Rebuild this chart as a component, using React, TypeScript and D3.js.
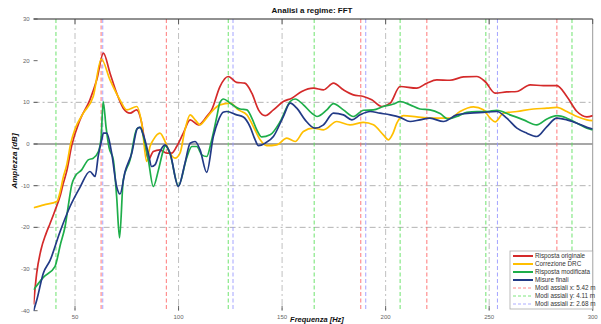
import React from 'react';
import * as d3 from 'd3';

// [frequency Hz, amplitude dB]
const rispostaOriginale: [number, number][] = [
  [30, -38.5], [31.5, -31], [33.5, -25.5], [36, -21.5], [38, -19], [40.3, -16], [42.8, -12.5], [44.3, -9.5],
  [46, -6.5], [48.4, -0.4], [52.4, 5.8], [57.2, 10.6], [60.5, 15.4], [63.7, 21.8], [66.9, 17], [70.1, 12.2],
  [73.3, 8.6], [76.6, 7.4], [79.8, 8.2], [82, 5.5], [83.8, 0.2], [85.4, -3.8], [87.8, -1.8], [91, -1.4],
  [94.3, -2.2], [96.7, -2.2], [99.1, -0.6], [102.3, 2.6], [105.6, 5.8], [109.6, 4.6], [113.6, 6.6], [116, 8.2],
  [120, 13.8], [124, 16.2], [128, 14.8], [132, 14.6], [135.4, 12.2], [138.6, 8.2], [141.8, 6.8], [145.8, 8.2],
  [150.6, 10.2], [154.7, 11], [159.5, 12.6], [165.1, 13.4], [170, 13], [174.8, 14.6], [179.6, 13], [184.4, 11.8],
  [189.3, 11.4], [193.3, 10.6], [198.2, 9], [202.2, 9.8], [207, 13.8], [215, 13.4], [219.9, 14.6], [224.7, 15.4],
  [231, 15.3], [237.6, 16.1], [244, 16.2], [248, 15], [252.9, 12.2], [258.5, 12.5], [263.4, 12.6], [269.8, 14.2],
  [276.2, 14], [282.7, 14], [287.5, 11.4], [292.4, 7.8], [297.2, 6.5], [300, 6.8],
];

const correzioneDRC: [number, number][] = [
  [30, -15.3], [35, -14.6], [41.2, -13.8], [42.8, -11.5], [44.3, -8], [46, -5], [48, 0.3], [50, 3.6],
  [54, 7.4], [58.8, 11.4], [62.7, 20.4], [66.9, 15.4], [71.7, 10.6], [75, 8.2], [79.8, 9], [82.2, 5],
  [84.6, -4.2], [86.2, -0.6], [87.8, 1], [91, 2.6], [93.5, 0.6], [95.9, -2.2], [98.3, -3.4], [100.7, -2.2],
  [103.1, 3.4], [105.6, 7], [108, 5.8], [110.4, 4.6], [112.8, 5.8], [116.8, 8.2], [120, 9.4], [124.9, 9.8],
  [128.9, 8.2], [133, 7], [136.1, 4.2], [139.4, 1], [142.6, -0.4], [147.4, -0.2], [152.3, 1.4], [156.3, 0.6],
  [160.3, 3], [165.1, 3.8], [170, 3.4], [176.4, 5.4], [182.8, 4.6], [189.3, 5.2], [194.1, 4.6], [198.9, 2.2],
  [201.4, 1], [203.5, 2.5], [205.4, 5], [208.6, 6.8], [215, 6.5], [221.4, 6.2], [226.3, 6.2], [231.1, 6.2],
  [235.9, 7.8], [242.4, 8.9], [247.2, 8.2], [250.5, 6.2], [252.9, 5.3], [256.9, 7.4], [263.4, 7.8], [271.4, 8.4],
  [277.9, 8.6], [282.7, 8.8], [287.5, 7.8], [292.4, 6.6], [297.2, 5.8], [300, 5.6],
];

const rispostaModificata: [number, number][] = [
  [30, -35], [34.7, -32], [40.3, -29.4], [43, -24], [45.2, -19.8], [47, -14], [48.4, -9.8], [50, -7.8],
  [53.2, -6.2], [56.4, -3.8], [58.8, -3.4], [61.3, -1.8], [62.6, 1.5], [63.6, 10.2], [65, 4], [66.5, -1],
  [68.5, -3.8], [70.1, -12.6], [71.5, -22.5], [73.3, -8.6], [76.6, -3.8], [79.8, 3.6], [81.4, 4], [83.8, 0.2],
  [85.4, -3.8], [87.8, -10.2], [90.3, -6.2], [92.7, -1.4], [93.5, -0.4], [95.9, -2.4], [99.9, -10], [104, -3.2],
  [106.4, -0.6], [108.8, -0.6], [111.2, -2.6], [113.6, -3], [116, 1], [118.5, 6.6], [120, 10], [121.7, 10.8],
  [124.9, 9.8], [129.7, 8.4], [133, 8.2], [135.4, 6.2], [137.8, 3.4], [140.2, 1.7], [144.2, 2.2], [149.1, 5.4],
  [153.9, 10.2], [156.3, 10.8], [160.3, 9.4], [164.3, 7.4], [166.8, 6.6], [171.6, 8.2], [174.8, 9.7], [179.6, 8.2],
  [184.4, 6.6], [189.3, 8.1], [194.1, 8.2], [198.9, 9], [203.8, 9.6], [207, 10.2], [211.8, 9.4], [216.6, 8.4],
  [221.4, 8.2], [226.3, 7.3], [230.3, 6], [234.4, 6.6], [239.2, 7.6], [244, 7.8], [248.9, 7.8], [253.7, 8.1],
  [260.1, 7], [266.6, 5.8], [273, 4.6], [277.9, 6], [282.7, 6.8], [287.5, 6.2], [292.4, 5], [297.2, 3.8], [300, 3.4],
];

const misureFinali: [number, number][] = [
  [30, -40], [31.5, -37.5], [34.7, -31], [37.9, -28], [42.8, -21], [47.6, -15], [52.4, -10.4], [57.2, -6.6],
  [59.7, -7.8], [61.3, -2.6], [62.9, 1], [63.7, 2.6], [65.3, 2.6], [67.7, -2.2], [70.1, -10.2], [71.7, -12],
  [74.2, -6.6], [77.4, -2.2], [80.2, 3.8], [81.4, 4], [83, 2.2], [85.4, -2.2], [87, -5.4], [88.6, -5],
  [91, -1.8], [93.5, -0.2], [95.9, -2.2], [99.9, -10.2], [103.1, -4.6], [105.6, 0.2], [108, 0.6], [110.4, -1.4],
  [113.6, -6.8], [116.8, 1.8], [119.2, 5.6], [121.5, 7.6], [123.3, 7.8], [128.1, 7], [131.3, 6.5], [134.5, 4.2],
  [137, 1], [138.6, -0.4], [141.8, 0.2], [145.8, 1.8], [150.6, 6.6], [153.9, 9.8], [157.1, 8.6], [161.1, 5.8],
  [165.9, 3.8], [170, 4.6], [174.8, 7.4], [179.6, 7], [183.7, 5.8], [187.7, 7], [192.5, 7.8], [197.3, 7.4],
  [202.2, 7], [207, 6.4], [211.8, 5.4], [216.6, 5.8], [221.4, 6.2], [227.9, 5.4], [234.4, 7], [240.8, 7.4],
  [247.2, 7.6], [253.7, 7.8], [258.5, 6.2], [263.4, 3.8], [268.2, 2.6], [273, 1.8], [277.9, 4.2], [282.7, 6.2],
  [287.5, 5.8], [292.4, 5], [297.2, 4], [300, 3.6],
];

// axial room modes
const modiX = [62.6, 94.1, 188, 219.9, 282.7];
const modiY = [40.8, 124, 165.5, 207, 248.4, 290];
const modiZ = [63.4, 126.3, 190.4, 254];

const xTicks = [50, 100, 150, 200, 250, 300];
const yTicks = [30, 20, 10, 0, -10, -20, -30, -40];
const yGrid = [10, -10, -20];

const series = [
  { name: 'Risposta originale', data: rispostaOriginale, color: '#d42a2a' },
  { name: 'Correzione DRC', data: correzioneDRC, color: '#ffbf00' },
  { name: 'Risposta modificata', data: rispostaModificata, color: '#1eae4a' },
  { name: 'Misure finali', data: misureFinali, color: '#223a86' },
];

const modi = [
  { name: 'Modi assiali x: 5.42 m', values: modiX, color: '#ff6a6a' },
  { name: 'Modi assiali y: 4.11 m', values: modiY, color: '#5ee05e' },
  { name: 'Modi assiali z: 2.68 m', values: modiZ, color: '#9a9aff' },
];

const App: React.FC = () => {
  const width = 601;
  const height = 324;
  const left = 33.6, right = 592.7, top = 19, bottom = 310.7;

  const x = d3.scaleLinear().domain([30, 300]).range([left, right]);
  const y = d3.scaleLinear().domain([-40, 30]).range([bottom, top]);

  const line = d3.line<[number, number]>()
    .x(d => x(d[0]))
    .y(d => y(d[1]))
    .curve(d3.curveMonotoneX);

  const font = 'Liberation Sans, Arial, sans-serif';
  const lx = 510, ly = 251;

  return (
    <svg width={width} height={height} style={{ position: 'absolute', left: 0, top: 0, background: '#fff' }}>
      <defs>
        <clipPath id="plot">
          <rect x={left} y={top} width={right - left} height={bottom - top} />
        </clipPath>
      </defs>

      {/* grid */}
      {xTicks.slice(0, -1).map(t => (
        <line key={'gx' + t} x1={x(t)} x2={x(t)} y1={top} y2={bottom}
          stroke="#b0b0b0" strokeWidth={0.8} strokeDasharray="6 3 2 3" />
      ))}
      {yGrid.map(t => (
        <line key={'gy' + t} x1={left} x2={right} y1={y(t)} y2={y(t)}
          stroke="#a0a0a0" strokeWidth={0.8} strokeDasharray="6 3 2 3" />
      ))}
      <line x1={left} x2={right} y1={y(0)} y2={y(0)} stroke="#8a8a8a" strokeWidth={1.4} />

      {/* modal lines */}
      {modi.map(m => m.values.map(f => (
        <line key={m.name + f} x1={x(f)} x2={x(f)} y1={top} y2={bottom}
          stroke={m.color} strokeWidth={0.9} strokeDasharray="4 2.5" />
      )))}

      {/* frame */}
      <line x1={left} x2={right} y1={top} y2={top} stroke="#222" strokeWidth={1} />
      <line x1={right} x2={right} y1={top} y2={bottom} stroke="#999" strokeWidth={1} />
      {yTicks.map(t => (
        <g key={'ty' + t}>
          <line x1={left} x2={left + 4} y1={y(t)} y2={y(t)} stroke="#444" strokeWidth={0.8} />
          <text x={left - 4} y={y(t)} dy="0.32em" textAnchor="end" fontSize={6} fill="#666" fontFamily={font}>{t}</text>
        </g>
      ))}
      {xTicks.map(t => (
        <g key={'tx' + t}>
          <line x1={x(t)} x2={x(t)} y1={bottom} y2={bottom - 5} stroke="#444" strokeWidth={0.8} />
          <line x1={x(t)} x2={x(t)} y1={top} y2={top + 5} stroke="#444" strokeWidth={0.8} />
          <text x={x(t)} y={bottom + 8} textAnchor="middle" fontSize={6} fill="#666" fontFamily={font}>{t}</text>
        </g>
      ))}

      {/* curves */}
      <g clipPath="url(#plot)">
        {series.map(s => (
          <path key={s.name} d={line(s.data) ?? ''} fill="none" stroke={s.color} strokeWidth={1.7} strokeLinejoin="round" />
        ))}
      </g>

      {/* titles */}
      <text x={312} y={13} textAnchor="middle" fontSize={8} fontWeight="bold" fill="#111" fontFamily={font}>
        Analisi a regime: FFT
      </text>
      <text x={317} y={321.5} textAnchor="middle" fontSize={7.5} fontWeight="bold" fontStyle="italic" fill="#111" fontFamily={font}>
        Frequenza [Hz]
      </text>
      <text transform={`translate(17,${161}) rotate(-90)`} textAnchor="middle" fontSize={8} fontWeight="bold" fontStyle="italic" fill="#111" fontFamily={font}>
        Ampiezza [dB]
      </text>

      {/* legend */}
      <rect x={lx} y={ly} width={right - lx} height={58} fill="#fff" stroke="#aaa" strokeWidth={0.8} />
      {series.map((s, i) => (
        <g key={'l' + s.name}>
          <line x1={lx + 3} x2={lx + 23} y1={ly + 5 + i * 8} y2={ly + 5 + i * 8} stroke={s.color} strokeWidth={2} />
          <text x={lx + 25} y={ly + 5 + i * 8} dy="0.35em" fontSize={6.3} fill="#333" fontFamily={font}>{s.name}</text>
        </g>
      ))}
      {modi.map((m, j) => {
        const yy = ly + 5 + (j + 4) * 8;
        return (
          <g key={'lm' + m.name}>
            <line x1={lx + 3} x2={lx + 23} y1={yy} y2={yy} stroke={m.color} strokeWidth={0.8} strokeDasharray="3 2" />
            <text x={lx + 25} y={yy} dy="0.35em" fontSize={6.3} fill="#333" fontFamily={font}>{m.name}</text>
          </g>
        );
      })}
    </svg>
  );
};

export default App;
